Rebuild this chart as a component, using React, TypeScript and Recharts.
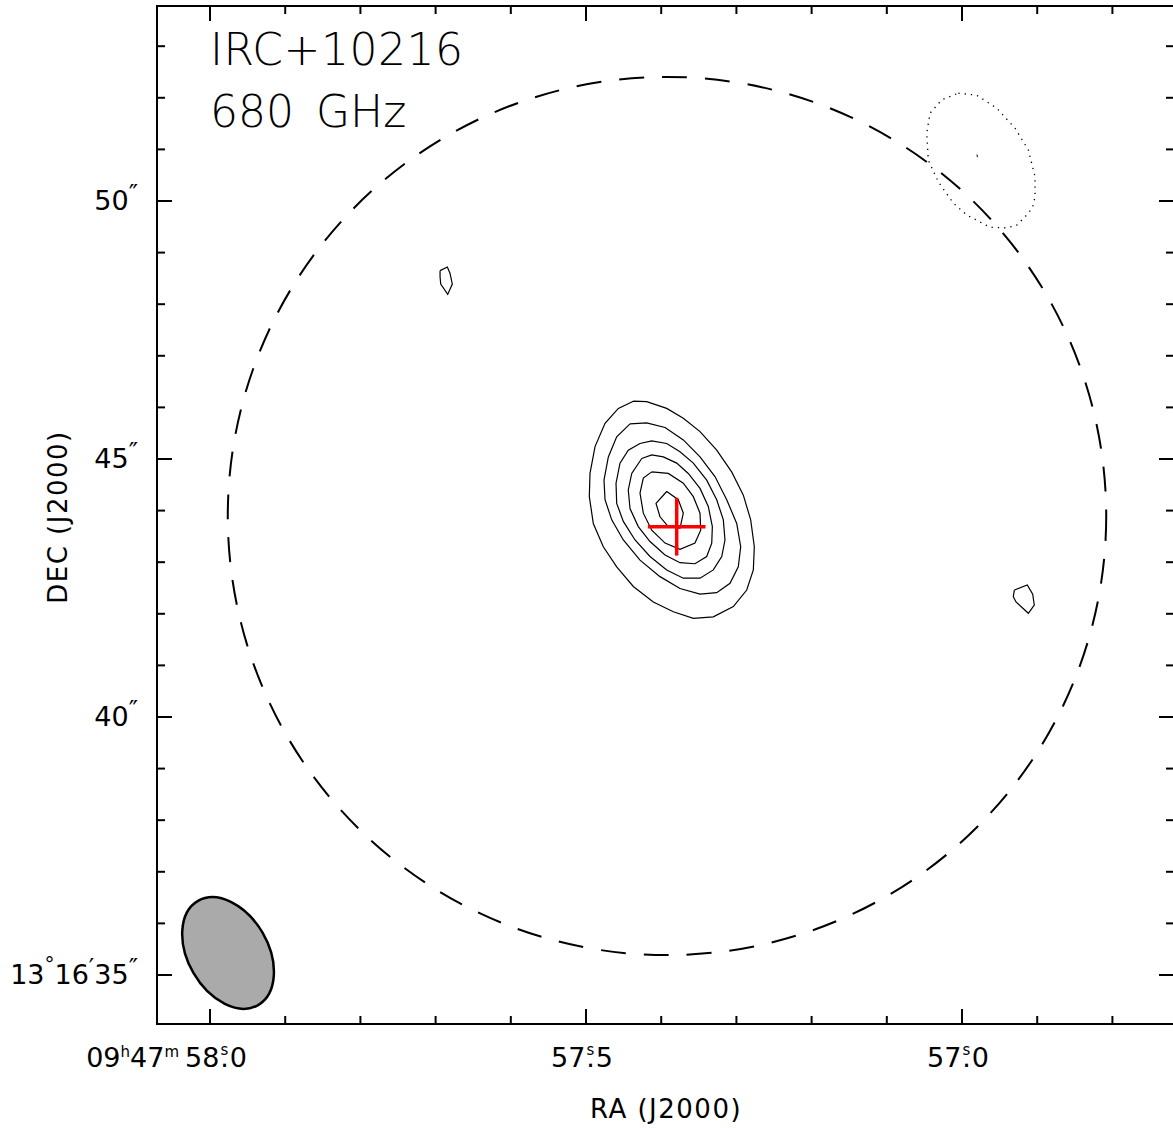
import React from 'react';
import { ComposedChart, Line, XAxis, YAxis, ReferenceArea } from 'recharts';

// RA = 09h47m + seconds, DEC = 13°16' + arcsec
const RA_HOURS = '09';
const RA_MINUTES = '47';
const DEC_DEGREES = '13';
const DEC_MINUTES = '16';

const RA_DOMAIN = [56.7181, 58.0705];
const DEC_DOMAIN = [34.05, 53.779];

const RA_TICKS = [58.0, 57.9, 57.8, 57.7, 57.6, 57.5, 57.4, 57.3, 57.2, 57.1, 57.0, 56.9, 56.8];
const RA_MAJOR = [58.0, 57.5, 57.0];
const DEC_TICKS = [35, 36, 37, 38, 39, 40, 41, 42, 43, 44, 45, 46, 47, 48, 49, 50, 51, 52, 53];
const DEC_MAJOR = [35, 40, 45, 50];

// contour vertices [ra (s), dec (")]
const CONTOUR_1 = [
    [57.4371, 46.12], [57.4193, 46.11], [57.3927, 45.98], [57.3706, 45.79], [57.3484, 45.53],
    [57.3262, 45.17], [57.3063, 44.75], [57.2908, 44.30], [57.2810, 43.82], [57.2762, 43.30],
    [57.2775, 42.85], [57.2863, 42.46], [57.3041, 42.14], [57.3307, 41.94], [57.3573, 41.91],
    [57.3839, 42.04], [57.4105, 42.23], [57.4371, 42.53], [57.4592, 42.91], [57.4770, 43.30],
    [57.4903, 43.75], [57.4956, 44.27], [57.4947, 44.72], [57.4880, 45.24], [57.4747, 45.69],
    [57.4570, 45.98],
];
const CONTOUR_2 = [
    [57.4415, 45.68], [57.4193, 45.70], [57.3949, 45.61], [57.3706, 45.37], [57.3484, 45.04],
    [57.3285, 44.66], [57.3129, 44.21], [57.2996, 43.75], [57.2943, 43.30], [57.2975, 42.91],
    [57.3085, 42.59], [57.3262, 42.41], [57.3484, 42.38], [57.3750, 42.49], [57.4016, 42.72],
    [57.4282, 43.04], [57.4504, 43.43], [57.4658, 43.82], [57.4747, 44.21], [57.4761, 44.59],
    [57.4703, 45.04], [57.4592, 45.43],
];
const CONTOUR_3 = [
    [57.4282, 45.30], [57.4126, 45.35], [57.3927, 45.30], [57.3750, 45.14], [57.3573, 44.92],
    [57.3395, 44.59], [57.3262, 44.21], [57.3174, 43.82], [57.3152, 43.43], [57.3195, 43.11],
    [57.3307, 42.85], [57.3484, 42.69], [57.3706, 42.69], [57.3927, 42.85], [57.4149, 43.11],
    [57.4348, 43.43], [57.4504, 43.79], [57.4592, 44.14], [57.4601, 44.53], [57.4548, 44.92],
    [57.4438, 45.17],
];
const CONTOUR_4 = [
    [57.4259, 45.01], [57.4126, 45.08], [57.3972, 45.04], [57.3794, 44.92], [57.3640, 44.72],
    [57.3484, 44.43], [57.3374, 44.08], [57.3320, 43.69], [57.3328, 43.37], [57.3395, 43.11],
    [57.3551, 42.97], [57.3750, 42.99], [57.3949, 43.14], [57.4149, 43.40], [57.4305, 43.69],
    [57.4415, 44.04], [57.4438, 44.40], [57.4392, 44.72],
];
const CONTOUR_5 = [
    [57.4126, 44.75], [57.3906, 44.72], [57.3706, 44.53], [57.3573, 44.27], [57.3484, 43.95],
    [57.3475, 43.62], [57.3551, 43.37], [57.3750, 43.25], [57.3949, 43.37], [57.4126, 43.62],
    [57.4238, 43.95], [57.4282, 44.34], [57.4238, 44.63],
];
const CONTOUR_6 = [
    [57.3927, 44.37], [57.3773, 44.21], [57.3706, 43.95], [57.3750, 43.66], [57.3906, 43.69],
    [57.4016, 43.88], [57.4069, 44.14],
];
const SPOT_NW = [
    [57.6941, 48.65], [57.6844, 48.72], [57.6809, 48.60], [57.6778, 48.39], [57.6839, 48.19],
    [57.6932, 48.39], [57.6941, 48.53],
];
const SPOT_E = [
    [56.9304, 42.46], [56.9132, 42.56], [56.9060, 42.38], [56.9039, 42.17], [56.9118, 42.01],
    [56.9282, 42.23], [56.9318, 42.33],
];
// negative contour (dotted)
const NEG_CONTOUR = [
    [57.0049, 52.09], [56.9805, 52.05], [56.9539, 51.80], [56.9295, 51.41], [56.9118, 50.99],
    [56.9029, 50.47], [56.9029, 50.08], [56.9060, 49.89], [56.9118, 49.76], [56.9273, 49.53],
    [56.9406, 49.48], [56.9628, 49.49], [56.9938, 49.73], [57.0116, 49.96], [57.0315, 50.37],
    [57.0448, 50.79], [57.0469, 51.31], [57.0426, 51.70], [57.0270, 51.96],
];
const NEG_SPOT = [[56.9801, 50.90], [56.9795, 50.85]];

const POS_CONTOURS = [CONTOUR_1, CONTOUR_2, CONTOUR_3, CONTOUR_4, CONTOUR_5, CONTOUR_6, SPOT_NW, SPOT_E];

// source position and cross half-sizes
const SOURCE = { ra: 57.3794, dec: 43.688 };
const CROSS_RA = 0.0383;
const CROSS_DEC = 0.56;

// primary beam (dashed circle) and synthesized beam, arcsec
const PRIMARY_BEAM = { ra: 57.3923, dec: 43.895, radius: 8.51 };
const SYNTH_BEAM = { ra: 57.976, dec: 35.426, major: 2.33, minor: 1.55, pa: 30 };
const ARCSEC_PER_SEC = 14.57;

const closed = (pts: number[][]) => [...pts, pts[0]].map(([ra, dec]) => ({ ra, dec }));
const open = (pts: number[][]) => pts.map(([ra, dec]) => ({ ra, dec }));

const PLOT_LEFT = 157;
const PLOT_RIGHT = 1174;
const PLOT_TOP = 6;
const PLOT_BOTTOM = 1024;
const FONT = '"DejaVu Sans", sans-serif';

const isMajor = (list: number[], v: number) => list.some((m) => Math.abs(m - v) < 1e-6);

const RaTick = (props: any) => {
    const { x, payload } = props;
    const v = payload.value;
    const major = isMajor(RA_MAJOR, v);
    const len = major ? 15 : 8;
    const first = Math.abs(v - RA_MAJOR[0]) < 1e-6;
    const sec = Math.floor(v + 1e-6);
    const frac = Math.round((v - sec) * 10);
    const off = first ? 10 : 0;
    return (
        <g>
            <line x1={x} x2={x} y1={PLOT_BOTTOM} y2={PLOT_BOTTOM - len} stroke="#000" strokeWidth={2} />
            <line x1={x} x2={x} y1={PLOT_TOP} y2={PLOT_TOP + len} stroke="#000" strokeWidth={2} />
            {major && (
                <text x={x + off + 27} y={1067} textAnchor="end" fontFamily={FONT} fontSize={27} fill="#000">
                    {first && (
                        <>
                            <tspan>{RA_HOURS}</tspan>
                            <tspan dy={-10} fontSize={15}>h</tspan>
                            <tspan dy={10}>{RA_MINUTES}</tspan>
                            <tspan dy={-10} fontSize={15}>m</tspan>
                            <tspan dy={10} dx={6}>{sec}</tspan>
                        </>
                    )}
                    {!first && <tspan>{sec}</tspan>}
                    <tspan dy={-12} dx={1} fontSize={15}>s</tspan>
                    <tspan dy={12} dx={-8}>.</tspan>
                    <tspan dx={1}>{frac}</tspan>
                </text>
            )}
        </g>
    );
};

const DecTick = (props: any) => {
    const { y, payload } = props;
    const v = payload.value;
    const major = isMajor(DEC_MAJOR, v);
    const len = major ? 15 : 8;
    const first = v === DEC_MAJOR[0];
    return (
        <g>
            <line x1={PLOT_LEFT} x2={PLOT_LEFT + len} y1={y} y2={y} stroke="#000" strokeWidth={2} />
            <line x1={PLOT_RIGHT} x2={PLOT_RIGHT - len} y1={y} y2={y} stroke="#000" strokeWidth={2} />
            {major && (
                <text x={138} y={y + 9} textAnchor="end" fontFamily={FONT} fontSize={27} fill="#000">
                    {first && (
                        <>
                            <tspan>{DEC_DEGREES}</tspan>
                            <tspan dy={-13} fontSize={20}>°</tspan>
                            <tspan dy={13}>{DEC_MINUTES}</tspan>
                            <tspan dy={-8} fontSize={24}>′</tspan>
                            <tspan dy={8}>{v}</tspan>
                        </>
                    )}
                    {!first && <tspan>{v}</tspan>}
                    <tspan dy={-8} fontSize={25}>″</tspan>
                </text>
            )}
        </g>
    );
};

const ellipseShape = (rotate: number, style: any) => (props: any) => {
    const { x, y, width, height } = props;
    const cx = x + width / 2;
    const cy = y + height / 2;
    return (
        <ellipse
            cx={cx}
            cy={cy}
            rx={Math.abs(width) / 2}
            ry={Math.abs(height) / 2}
            transform={`rotate(${rotate} ${cx} ${cy})`}
            {...style}
        />
    );
};

const App: React.FC = () => {
    const pbRa = PRIMARY_BEAM.radius / ARCSEC_PER_SEC;
    const sbRa = SYNTH_BEAM.minor / 2 / ARCSEC_PER_SEC;
    return (
        <div style={{ position: 'absolute', left: 0, top: 0, width: 1173, height: 1128, overflow: 'hidden', background: '#fff' }}>
            <ComposedChart width={1200} height={1128} margin={{ top: 6, right: 26, bottom: 0, left: 0 }}>
                <XAxis
                    dataKey="ra"
                    type="number"
                    domain={RA_DOMAIN}
                    reversed
                    allowDataOverflow
                    ticks={RA_TICKS}
                    interval={0}
                    height={104}
                    axisLine={false}
                    tickLine={false}
                    tick={<RaTick />}
                />
                <YAxis
                    dataKey="dec"
                    type="number"
                    domain={DEC_DOMAIN}
                    allowDataOverflow
                    ticks={DEC_TICKS}
                    interval={0}
                    width={157}
                    axisLine={false}
                    tickLine={false}
                    tick={<DecTick />}
                />
                <ReferenceArea
                    x1={RA_DOMAIN[0]}
                    x2={RA_DOMAIN[1]}
                    y1={DEC_DOMAIN[0]}
                    y2={DEC_DOMAIN[1]}
                    fill="none"
                    stroke="#000"
                    strokeWidth={2}
                    ifOverflow="visible"
                />
                <ReferenceArea
                    x1={PRIMARY_BEAM.ra - pbRa}
                    x2={PRIMARY_BEAM.ra + pbRa}
                    y1={PRIMARY_BEAM.dec - PRIMARY_BEAM.radius}
                    y2={PRIMARY_BEAM.dec + PRIMARY_BEAM.radius}
                    ifOverflow="visible"
                    shape={ellipseShape(0, { fill: 'none', stroke: '#000', strokeWidth: 2, strokeDasharray: '25 18' })}
                />
                <ReferenceArea
                    x1={SYNTH_BEAM.ra - sbRa}
                    x2={SYNTH_BEAM.ra + sbRa}
                    y1={SYNTH_BEAM.dec - SYNTH_BEAM.major / 2}
                    y2={SYNTH_BEAM.dec + SYNTH_BEAM.major / 2}
                    ifOverflow="visible"
                    shape={ellipseShape(-SYNTH_BEAM.pa, { fill: '#aaaaaa', stroke: '#000', strokeWidth: 2.5 })}
                />
                {POS_CONTOURS.map((c, i) => (
                    <Line
                        key={`pos-${i}`}
                        data={closed(c)}
                        dataKey="dec"
                        type="linear"
                        stroke="#000"
                        strokeWidth={1.2}
                        dot={false}
                        activeDot={false}
                        isAnimationActive={false}
                    />
                ))}
                <Line
                    data={closed(NEG_CONTOUR)}
                    dataKey="dec"
                    type="linear"
                    stroke="#000"
                    strokeWidth={1.3}
                    strokeDasharray="1.3 5"
                    dot={false}
                    activeDot={false}
                    isAnimationActive={false}
                />
                <Line
                    data={open(NEG_SPOT)}
                    dataKey="dec"
                    type="linear"
                    stroke="#000"
                    strokeWidth={1}
                    dot={false}
                    activeDot={false}
                    isAnimationActive={false}
                />
                <Line
                    data={[
                        { ra: SOURCE.ra - CROSS_RA, dec: SOURCE.dec },
                        { ra: SOURCE.ra + CROSS_RA, dec: SOURCE.dec },
                    ]}
                    dataKey="dec"
                    type="linear"
                    stroke="#ff0000"
                    strokeWidth={3.5}
                    dot={false}
                    activeDot={false}
                    isAnimationActive={false}
                />
                <Line
                    data={[
                        { ra: SOURCE.ra, dec: SOURCE.dec - CROSS_DEC },
                        { ra: SOURCE.ra, dec: SOURCE.dec + CROSS_DEC },
                    ]}
                    dataKey="dec"
                    type="linear"
                    stroke="#ff0000"
                    strokeWidth={3.5}
                    dot={false}
                    activeDot={false}
                    isAnimationActive={false}
                />
            </ComposedChart>
            <svg width={1173} height={1128} style={{ position: 'absolute', left: 0, top: 0, pointerEvents: 'none' }}>
                <g fontFamily={FONT} fill="#000">
                    <text x={210} y={65} fontSize={44} fontWeight={200} letterSpacing={0.5}>IRC+10216</text>
                    <text x={210} y={127} fontSize={44} fontWeight={200}>
                        <tspan>680</tspan>
                        <tspan dx={8}> GHz</tspan>
                    </text>
                    <text x={666} y={1118} fontSize={26} textAnchor="middle" letterSpacing={1.5}>RA (J2000)</text>
                    <text x={67} y={517} fontSize={26} textAnchor="middle" letterSpacing={1.5} transform="rotate(-90 67 517)">
                        DEC (J2000)
                    </text>
                </g>
            </svg>
        </div>
    );
};

export default App;
